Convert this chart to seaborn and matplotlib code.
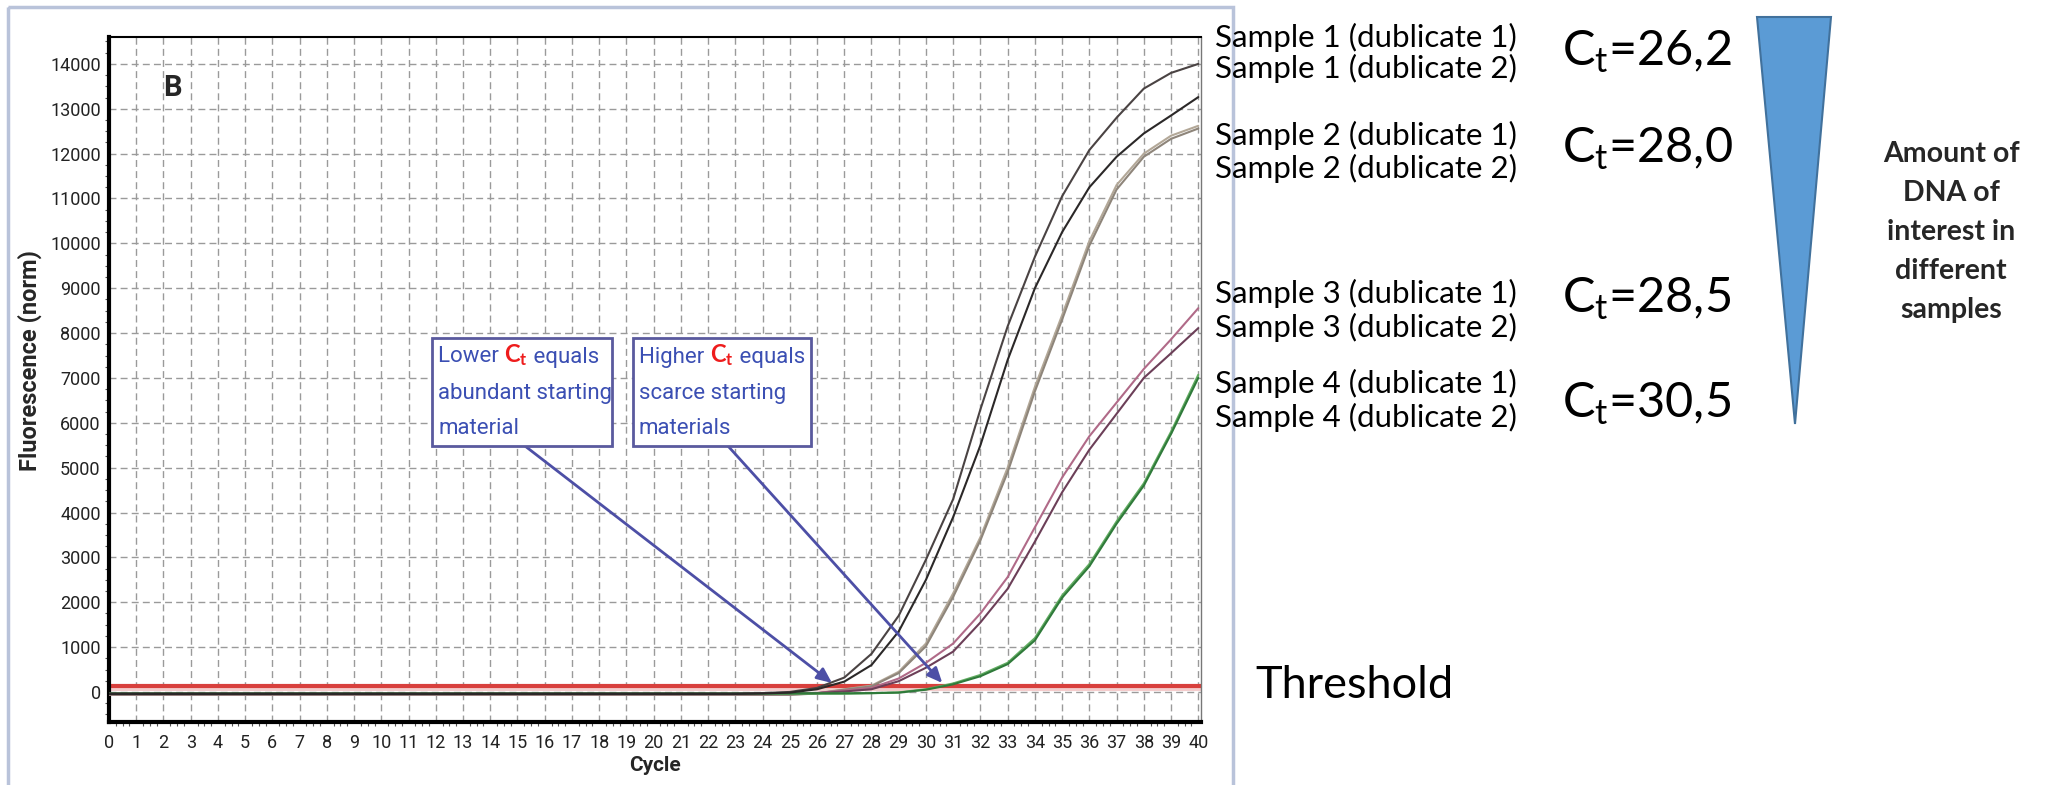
import numpy as np
import pandas as pd
import matplotlib
matplotlib.use('Agg')
import matplotlib.pyplot as plt
import seaborn as sns
from matplotlib import font_manager
from matplotlib.patches import Polygon, Rectangle
from matplotlib.ticker import MultipleLocator

# ---- data ----
cycles = list(range(41))

s1_dup1 = [-35, -35, -35, -35, -35, -35, -35, -35, -35, -35, -35, -35, -35, -35, -35, -35, -35, -35, -35, -35,
           -35, -35, -35, -35, -25, 0, 90, 320, 850, 1700, 2950, 4300, 6300, 8150, 9700, 11050, 12080, 12800,
           13450, 13800, 14000]
s1_dup2 = [-45, -45, -45, -45, -45, -45, -45, -45, -45, -45, -45, -45, -45, -45, -45, -45, -45, -45, -45, -45,
           -45, -45, -45, -45, -35, -15, 60, 230, 600, 1350, 2500, 3900, 5500, 7400, 9000, 10250, 11250, 11930,
           12450, 12850, 13260]
s2_dup1 = [-60, -60, -60, -60, -60, -60, -60, -60, -60, -60, -60, -60, -60, -60, -60, -60, -60, -60, -60, -60,
           -60, -60, -60, -60, -60, -60, -30, 60, 140, 450, 1080, 2200, 3450, 5000, 6800, 8400, 10050, 11300,
           12000, 12400, 12620]
s2_dup2 = [-65, -65, -65, -65, -65, -65, -65, -65, -65, -65, -65, -65, -65, -65, -65, -65, -65, -65, -65, -65,
           -65, -65, -65, -65, -65, -65, -35, 50, 125, 420, 1020, 2120, 3380, 4900, 6700, 8300, 9950, 11200,
           11930, 12330, 12560]
s3_dup1 = [-50, -50, -50, -50, -50, -50, -50, -50, -50, -50, -50, -50, -50, -50, -50, -50, -50, -50, -50, -50,
           -50, -50, -50, -50, -50, -50, -20, 30, 90, 300, 650, 1080, 1750, 2560, 3670, 4780, 5700, 6450,
           7200, 7860, 8555]
s3_dup2 = [-45, -45, -45, -45, -45, -45, -45, -45, -45, -45, -45, -45, -45, -45, -45, -45, -45, -45, -45, -45,
           -45, -45, -45, -45, -45, -45, -25, 10, 60, 240, 540, 900, 1550, 2300, 3350, 4450, 5400, 6200,
           7000, 7550, 8110]
s4_dup1 = [-40, -40, -40, -40, -40, -40, -40, -40, -40, -40, -40, -40, -40, -40, -40, -40, -40, -40, -40, -40,
           -40, -40, -40, -40, -40, -40, -40, -40, -30, -10, 60, 190, 380, 650, 1200, 2150, 2850, 3800,
           4650, 5800, 7070]
s4_dup2 = [-30, -30, -30, -30, -30, -30, -30, -30, -30, -30, -30, -30, -30, -30, -30, -30, -30, -30, -30, -30,
           -30, -30, -30, -30, -30, -30, -30, -30, -25, -15, 50, 170, 350, 620, 1150, 2100, 2800, 3750,
           4600, 5750, 7000]
threshold = 130

curve_names = ['Sample 2 (dublicate 1)', 'Sample 2 (dublicate 2)', 'Sample 3 (dublicate 1)',
               'Sample 3 (dublicate 2)', 'Sample 4 (dublicate 1)', 'Sample 4 (dublicate 2)',
               'Sample 1 (dublicate 1)', 'Sample 1 (dublicate 2)']
curve_values = [s2_dup1, s2_dup2, s3_dup1, s3_dup2, s4_dup1, s4_dup2, s1_dup1, s1_dup2]
curve_colors = ['#b3a898', '#8e857a', '#b06a88', '#6c3f58', '#62ad62', '#2f7a3a', '#4a4343', '#2b2828']

label_order = ['Sample 1 (dublicate 1)', 'Sample 1 (dublicate 2)', 'Sample 2 (dublicate 1)',
               'Sample 2 (dublicate 2)', 'Sample 3 (dublicate 1)', 'Sample 3 (dublicate 2)',
               'Sample 4 (dublicate 1)', 'Sample 4 (dublicate 2)']
ct_labels = [r'C$_\mathrm{t}$=26,2', r'C$_\mathrm{t}$=28,0', r'C$_\mathrm{t}$=28,5', r'C$_\mathrm{t}$=30,5']
y_ticks = list(range(0, 15000, 1000))
x_ticks = list(range(0, 41))

df = pd.DataFrame({
    'Cycle': np.tile(cycles, len(curve_names)),
    'Fluorescence': np.concatenate(curve_values),
    'curve': np.repeat(curve_names, len(cycles)),
})

# ---- style ----
sns.set_style('white')
names = {f.name for f in font_manager.fontManager.ttflist}
narrow = 'Liberation Sans Narrow' if 'Liberation Sans Narrow' in names else 'Roboto'
plt.rcParams.update({
    'font.family': ['Lato', 'DejaVu Sans'],
    'mathtext.fontset': 'custom',
    'mathtext.rm': 'Lato',
    'mathtext.bf': 'Lato:bold',
    'mathtext.it': 'Lato:italic',
})

W, H = 2060, 785
fig = plt.figure(figsize=(W / 100, H / 100), dpi=100)
ax = fig.add_axes([109 / W, 1 - 722 / H, (1201 - 109) / W, (722 - 37) / H])

ax.axhline(threshold - 70, color='#f4cccc', lw=3, zorder=1)
sns.lineplot(data=df, x='Cycle', y='Fluorescence', hue='curve', hue_order=curve_names,
             palette=curve_colors, legend=False, lw=1.5, ax=ax, zorder=3)
ax.axhline(threshold, color='#d8403d', lw=3, zorder=2)

ax.set_xlim(0, 40.1)
ax.set_ylim(-670, 14600)
ax.set_xticks(x_ticks)
ax.set_yticks(y_ticks)
ax.xaxis.set_minor_locator(MultipleLocator(0.25))
ax.yaxis.set_minor_locator(MultipleLocator(250))
ax.tick_params(axis='both', which='major', length=0, labelsize=13, colors='#222222')
ax.tick_params(axis='x', which='major', pad=9)
ax.tick_params(axis='y', which='major', pad=6)
ax.tick_params(axis='both', which='minor', length=3, width=0.8, color='#555555', direction='out',
               bottom=True, left=True)
for lab in ax.get_xticklabels() + ax.get_yticklabels():
    lab.set_family(narrow)
ax.grid(True, which='major', color='#9a9a9a', ls=(0, (5, 3)), lw=1)

for side, lw, col in [('left', 3, 'black'), ('bottom', 3, 'black'), ('top', 1.5, 'black'), ('right', 1, '#777777')]:
    ax.spines[side].set_linewidth(lw)
    ax.spines[side].set_color(col)

ax.set_xlabel('Cycle', family=narrow, fontsize=15, fontweight='bold')
ax.set_ylabel('Fluorescence (norm)', family=narrow, fontsize=17, fontweight='bold')
ax.xaxis.set_label_coords(0.5, -0.05)
ax.yaxis.set_label_coords(-0.061, 0.528)
ax.text(0.05, 0.925, 'B', transform=ax.transAxes, family=narrow, fontsize=21, fontweight='bold',
        va='center')

# ---- overlay in pixel coordinates for the slide furniture ----
ov = fig.add_axes([0, 0, 1, 1], zorder=5)
ov.set_xlim(0, W)
ov.set_ylim(H, 0)
ov.axis('off')

ov.add_patch(Rectangle((8, 7), 1225, 820, fill=False, ec='#b9c3da', lw=2.5))

box_blue = '#3b4fb3'
for bx, bw, first, rest in [(432, 180, 'Lower ', ['abundant starting', 'material']),
                            (633, 178, 'Higher ', ['scarce starting', 'materials'])]:
    ov.add_patch(Rectangle((bx, 338), bw, 108, fc='white', ec='#5a5a9e', lw=2))
    t1 = ov.text(bx + 6, 357, first, family=narrow, fontsize=16, color=box_blue, va='center')
    t2 = ov.annotate(r'$\mathbf{C_t}$', xy=(1, 0), xycoords=t1, va='bottom', ha='left',
                     fontsize=17, color='#ee1c1c')
    ov.annotate(' equals', xy=(1, 0), xycoords=t2, va='bottom', ha='left', family=narrow,
                fontsize=16, color=box_blue)
    for i, line in enumerate(rest):
        ov.text(bx + 6, 393 + 35 * i, line, family=narrow, fontsize=16, color=box_blue, va='center')

arrow_kw = dict(arrowstyle='-|>,head_length=0.9,head_width=0.4', color='#4d4fa6', lw=2,
                shrinkA=0, shrinkB=0)
ax.annotate('', xy=(26.55, 200), xytext=(525, 446), textcoords=ov.transData, arrowprops=arrow_kw)
ax.annotate('', xy=(30.6, 200), xytext=(728, 446), textcoords=ov.transData, arrowprops=arrow_kw)

for name, y in zip(label_order, [37, 68, 135, 168, 293, 327, 383, 417]):
    ov.text(1215, y, name, fontsize=22.5, va='center', color='black')
for lab, y in zip(ct_labels, [52, 149, 299, 404]):
    ov.text(1562, y, lab, fontsize=35, va='center', color='black')

ov.text(1255, 686, 'Threshold', fontsize=32.5, va='center', color='black')

ov.add_patch(Polygon([(1757, 17), (1831, 17), (1795, 424)], closed=True, fc='#5b9bd5', ec='#41719c', lw=1.5))
ov.text(1951, 232, 'Amount of\nDNA of\ninterest in\ndifferent\nsamples', fontsize=20.5, fontweight='bold',
        ha='center', va='center', linespacing=1.62)

fig.savefig('out.png', dpi=100, facecolor='white')
